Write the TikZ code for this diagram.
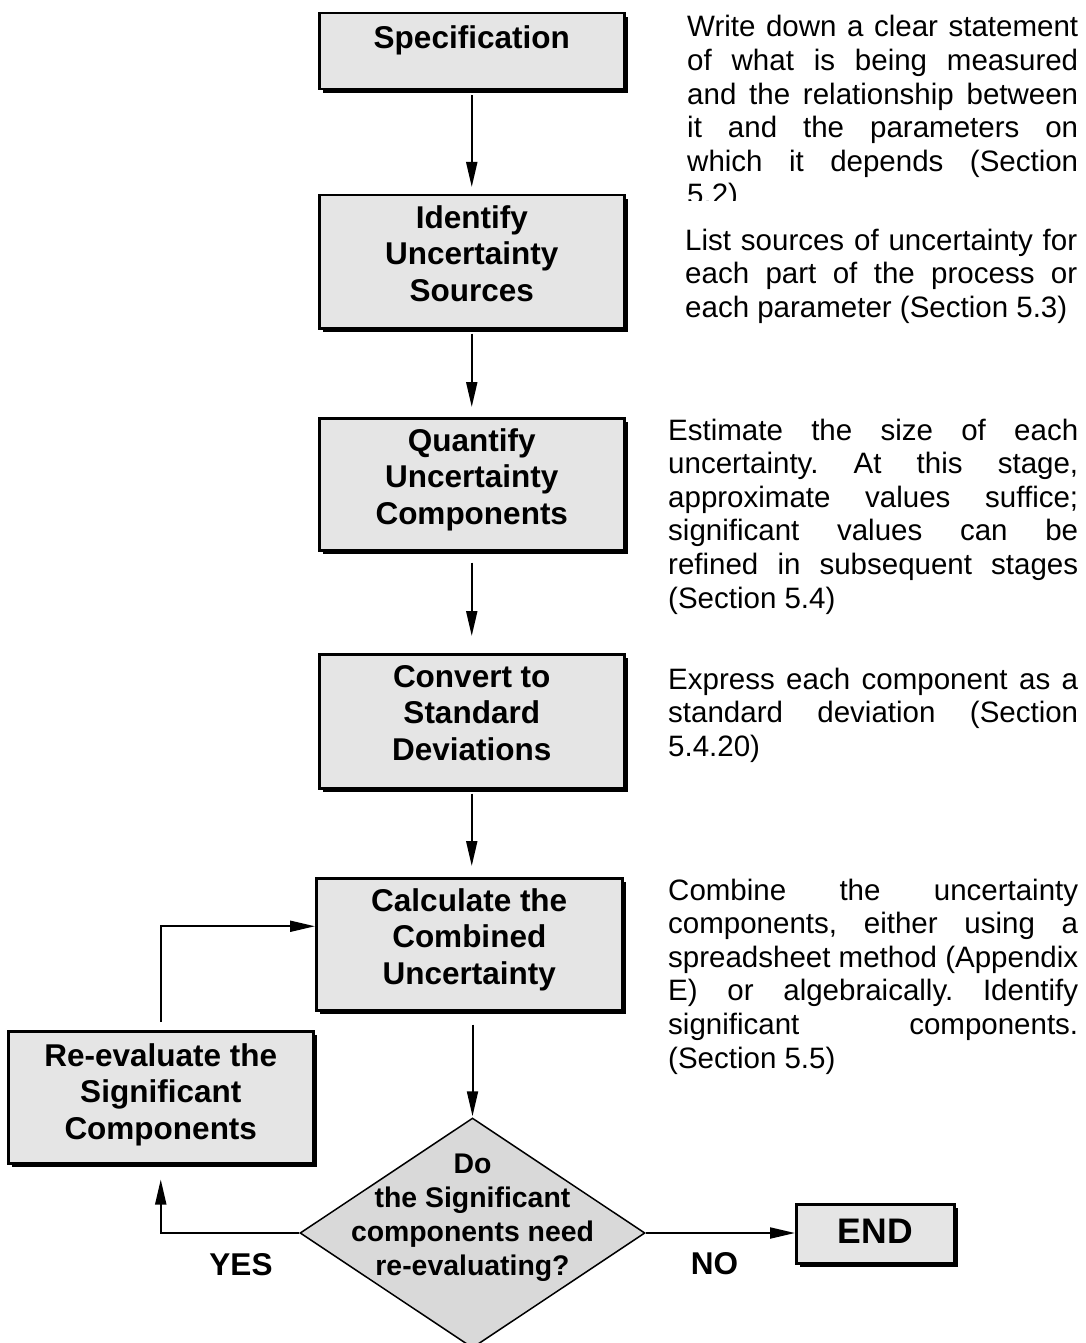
\documentclass[tikz,border=0pt]{standalone}
\usepackage{fontspec}
\setmainfont{Liberation Sans}
\usetikzlibrary{arrows.meta,shapes.geometric,shadows}
\definecolor{boxgray}{HTML}{E5E5E5}
\definecolor{diagray}{HTML}{D9D9D9}
\newlength\dw
\newcommand\jl[1]{\hbox to \dw{\spaceskip=0.278em plus 1fil\relax #1}}
\newcommand\boxtxt[4]{\parbox[t][#1][t]{#2}{\centering\rule{0pt}{#3}#4}}
\begin{document}
\frenchspacing
\begin{tikzpicture}[x=1pt,y=-1pt,
 box/.style={draw, line width=2.5pt, fill=boxgray, inner sep=0pt, anchor=north west,
   font=\bfseries\fontsize{31.5}{36.5}\selectfont,
   drop shadow={shadow xshift=3.5pt, shadow yshift=-3.5pt, fill=black, opacity=1}},
 desc/.style={inner sep=0pt, anchor=base west, font=\fontsize{29.5}{33.6}\selectfont},
 arr/.style={line width=2pt, -{Triangle[length=25pt,width=11pt]}},
 lab/.style={font=\bfseries\fontsize{31.5}{36}\selectfont, inner sep=0pt, anchor=base}]
\useasboundingbox (0,0) rectangle (1085,1343);
\clip (0,0) rectangle (1085,1343);

% process boxes
\node[box] (spec)  at (318,12)  {\boxtxt{76pt}{305pt}{35pt}{Specification}};
\node[box] (ident) at (318,194) {\boxtxt{133pt}{305pt}{33pt}{Identify\\Uncertainty\\Sources}};
\node[box] (quant) at (318,417) {\boxtxt{132pt}{305pt}{33pt}{Quantify\\Uncertainty\\Components}};
\node[box] (conv)  at (318,653) {\boxtxt{134pt}{305pt}{33pt}{Convert to\\Standard\\Deviations}};
\node[box] (calc)  at (315,877) {\boxtxt{132pt}{306pt}{33pt}{Calculate the\\Combined\\Uncertainty}};
\node[box] (reev)  at (7,1030)  {\boxtxt{132pt}{305pt}{35pt}{Re-evaluate the\\Significant\\Components}};
\node[box, font=\bfseries\fontsize{35.5}{40}\selectfont] (end) at (795,1203) {\boxtxt{59pt}{158pt}{39pt}{END}};

% decision
\node[diamond, draw, line width=1.5pt, fill=diagray, minimum width=345pt, minimum height=230pt,
  inner sep=0pt, font=\bfseries\fontsize{28.4}{34}\selectfont] (dec) at (472.5,1233)
  {\makebox[0pt]{\raisebox{60pt}[0pt][0pt]{\begin{tabular}[t]{@{}c@{}}Do\\the Significant\\components need\\re-evaluating?\end{tabular}}}};

% descriptions
\begin{scope}
\clip (600,0) rectangle (1085,201);
\node[desc] (d1) at (687,37) {\setlength\dw{391pt}\vtop{%
 \jl{Write down a clear statement}%
 \jl{of what is being measured}%
 \jl{and the relationship between}%
 \jl{it and the parameters on}%
 \jl{which it depends (Section}%
 \hbox{5.2)}}};
\end{scope}
\node[desc] (d2) at (685,250) {\setlength\dw{392pt}\vtop{%
 \jl{List sources of uncertainty for}%
 \jl{each part of the process or}%
 \hbox{each parameter (Section 5.3)}}};
\node[desc] (d3) at (668,440) {\setlength\dw{410pt}\vtop{%
 \jl{Estimate the size of each}%
 \jl{uncertainty. At this stage,}%
 \jl{approximate values suffice;}%
 \jl{significant values can be}%
 \jl{refined in subsequent stages}%
 \hbox{(Section 5.4)}}};
\node[desc] (d4) at (668,689) {\setlength\dw{410pt}\vtop{%
 \jl{Express each component as a}%
 \jl{standard deviation (Section}%
 \hbox{5.4.20)}}};
\node[desc] (d5) at (668,900) {\setlength\dw{410pt}\vtop{%
 \jl{Combine the uncertainty}%
 \jl{components, either using a}%
 \jl{spreadsheet method (Appendix}%
 \jl{E) or algebraically. Identify}%
 \jl{significant components.}%
 \hbox{(Section 5.5)}}};

% labels
\node[lab] (yes) at (241,1275) {YES};
\node[lab] (no)  at (714.5,1274) {NO};

% connectors
\draw[arr, shorten <=5pt, shorten >=7pt] (spec) -- (ident);
\draw[arr, shorten <=4pt, shorten >=10pt] (ident) -- (quant);
\draw[arr, shorten <=11pt, shorten >=17pt] (quant) -- (conv);
\draw[arr, shorten <=4pt, shorten >=11pt] (conv.south) -- (conv.south |- calc.north);
\draw[arr, shorten <=13pt, shorten >=1pt] (calc.south -| dec.north) -- (dec.north);
\draw[arr, shorten >=15pt] (dec.west) -| (reev.south);
\draw[arr, shorten <=8pt] (reev.north) |- ([yshift=18pt]calc.west);
\draw[arr] (dec.east) -- (dec.east -| end.west);
\end{tikzpicture}
\end{document}
